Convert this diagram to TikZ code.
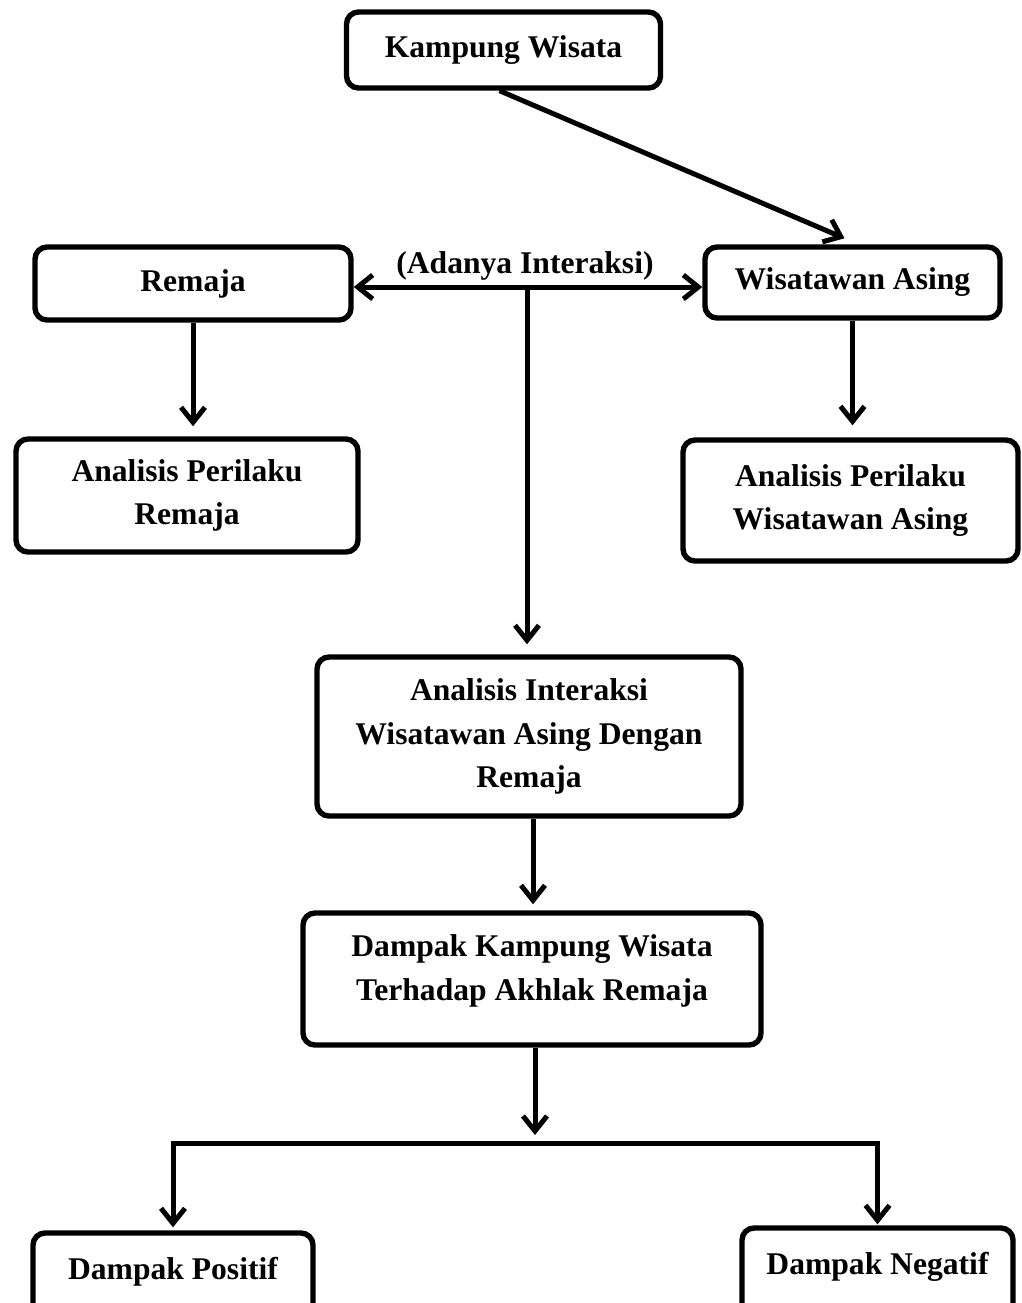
\documentclass[tikz,border=0pt]{standalone}
\usepackage{fontspec}
\setmainfont{Liberation Serif}
\usetikzlibrary{arrows.meta,calc}
\begin{document}
\begin{tikzpicture}[x=0.5pt,y=-0.5pt,
  lbl/.style={align=center,inner sep=0pt,font=\bfseries\fontsize{15.8}{21.8}\selectfont},
  box/.style={lbl,draw=black,line width=2.7pt,rounded corners=6pt,fill=white},
  arr/.style={line width=2.5pt,-{Straight Barb[length=7.5pt,width=12pt]}},
  arrtwo/.style={line width=2.5pt,{Straight Barb[length=7.5pt,width=12pt]}-{Straight Barb[length=7.5pt,width=12pt]}}
]
\useasboundingbox (0,0) rectangle (1022,1303);
\clip (0,0) rectangle (1022,1303);

\node[box,minimum width=157pt,minimum height=38pt] (kw) at (503.5,50) {Kampung Wisata};
\node[box,minimum width=158pt,minimum height=36.5pt] (rem) at (193,283.5) {Remaja};
\node[box,minimum width=147.5pt,minimum height=35.5pt] (wa) at (852.5,282.5) {Wisatawan Asing};
\node[box,minimum width=171pt,minimum height=56.5pt] (apr) at (187,495.5) {Analisis Perilaku\\Remaja};
\node[box,minimum width=167.5pt,minimum height=60.5pt] (apw) at (850.5,500.5) {Analisis Perilaku\\Wisatawan Asing};
\node[box,minimum width=212pt,minimum height=79.5pt] (ai) at (529,736.5) {Analisis Interaksi\\Wisatawan Asing Dengan\\Remaja};
\node[box,minimum width=229pt,minimum height=66pt] (dk) at (532,979) {};
\node[lbl] (dkt) at (532,971) {Dampak Kampung Wisata\\Terhadap Akhlak Remaja};
\node[box,minimum width=140pt,minimum height=60pt] (dp) at (173,1293) {};
\node[lbl] (dpt) at (173,1272) {Dampak Positif};
\node[box,minimum width=135.5pt,minimum height=60pt] (dn) at (877.5,1288) {};
\node[lbl] (dnt) at (877.5,1267) {Dampak Negatif};

\coordinate (mid) at (527,287);
\coordinate (split) at (535,1143);

\node[lbl,anchor=base] (adanya) at (525,273) {(Adanya Interaksi)};

\draw[arr] ([xshift=-2pt]kw.south) -- ([xshift=-4pt,yshift=3pt]wa.north);
\draw[arrtwo] (rem.east |- mid) -- (wa.west |- mid);
\draw[arr,shorten >=5pt] (mid) -- (ai.north -| mid);
\draw[arr,shorten >=5pt] (rem.south) -- (rem.south |- apr.north);
\draw[arr,shorten >=6pt] (wa.south) -- (wa.south |- apw.north);
\draw[arr,shorten >=3pt] ([xshift=2pt]ai.south) -- ([xshift=2pt]ai.south |- dk.north);
\draw[arr,shorten >=4pt] (dk.south -| split) -- (split);
\draw[arr,shorten >=1.5pt] (split) -| (dp.north);
\draw[arr,shorten >=0.5pt] (split) -| (dn.north);
\end{tikzpicture}
\end{document}
